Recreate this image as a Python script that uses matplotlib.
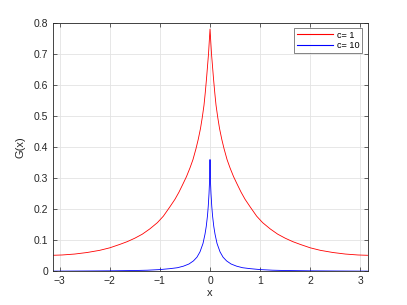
import numpy as np
import matplotlib
matplotlib.use("Agg")
import matplotlib.pyplot as plt

# =============================================================================
# DATA
# =============================================================================
# c = 1 curve, x >= 0 half (curve is symmetric about x = 0)
x_red = [0.0, 0.015, 0.03, 0.05, 0.07, 0.095, 0.12, 0.155, 0.19, 0.235, 0.28,
         0.34, 0.4, 0.47, 0.55, 0.62, 0.7, 0.8, 0.93, 1.05, 1.2, 1.35, 1.5,
         1.65, 1.8, 2.0, 2.2, 2.45, 2.7, 2.95, np.pi]
g_red = [0.78, 0.74, 0.70, 0.66, 0.62, 0.575, 0.535, 0.495, 0.46, 0.425, 0.395,
         0.36, 0.333, 0.305, 0.278, 0.255, 0.232, 0.208, 0.178, 0.157, 0.137, 0.12, 0.107,
         0.096, 0.087, 0.076, 0.068, 0.061, 0.056, 0.053, 0.052]

# c = 10 curve, x >= 0 half
x_blue = [0.0, 0.005, 0.012, 0.02, 0.035, 0.05, 0.075, 0.1, 0.14, 0.2, 0.26,
          0.33, 0.42, 0.53, 0.65, 0.8, 1.0, 1.25, 1.5, 2.0, 2.5, np.pi]
g_blue = [0.36, 0.32, 0.28, 0.25, 0.21, 0.18, 0.145, 0.12, 0.09, 0.063, 0.046,
          0.034, 0.024, 0.017, 0.012, 0.009, 0.006, 0.004, 0.003, 0.002, 0.0015, 0.001]

labels = ["c= 1", "c= 10"]
xticks = [-3, -2, -1, 0, 1, 2, 3]
yticks = [0, 0.1, 0.2, 0.3, 0.4, 0.5, 0.6, 0.7, 0.8]
yticklabels = ["0", "0.1", "0.2", "0.3", "0.4", "0.5", "0.6", "0.7", "0.8"]

# mirror the halves
xr = np.concatenate([-np.array(x_red[::-1]), np.array(x_red[1:])])
gr = np.concatenate([np.array(g_red[::-1]), np.array(g_red[1:])])
xb = np.concatenate([-np.array(x_blue[::-1]), np.array(x_blue[1:])])
gb = np.concatenate([np.array(g_blue[::-1]), np.array(g_blue[1:])])

# =============================================================================
# FIGURE
# =============================================================================
plt.rcParams["font.family"] = ["Liberation Sans", "DejaVu Sans"]
size = 7.5
axc = "#262626"

fig = plt.figure(figsize=(4.07, 3.05), dpi=100)
ax = fig.add_axes([0.129, 0.110, 0.774, 0.815])

ax.plot(xr, gr, color="#ff0000", linewidth=0.6, label=labels[0])
ax.plot(xb, gb, color="#0000ff", linewidth=0.6, label=labels[1])

ax.set_xlim(-np.pi, np.pi)
ax.set_ylim(0, 0.8)
ax.set_xticks(xticks)
ax.set_yticks(yticks)
ax.set_yticklabels(yticklabels)
ax.grid(True, color="#e3e3e3", linewidth=0.6)
ax.set_axisbelow(True)

for s in ax.spines.values():
    s.set_color(axc)
    s.set_linewidth(0.6)
ax.tick_params(direction="in", length=3, width=0.5, colors=axc,
               labelsize=size, top=True, right=True, pad=3)

ax.set_xlabel("x", fontsize=size + 0.5, color=axc, labelpad=2)
ax.set_ylabel("G(x)", fontsize=size + 0.5, color=axc, labelpad=6)

leg = ax.legend(loc="upper right", fontsize=6.6, frameon=True, fancybox=False,
                borderpad=0.3, handlelength=4.0, handletextpad=0.4,
                labelspacing=0.2, borderaxespad=0.55)
leg.get_frame().set_edgecolor(axc)
leg.get_frame().set_linewidth(0.5)
for h, c in zip(leg.get_lines(), ["#ff0000", "#0000ff"]):
    h.set_color(c)
    h.set_linewidth(0.8)

fig.savefig("out.png", dpi=100)
